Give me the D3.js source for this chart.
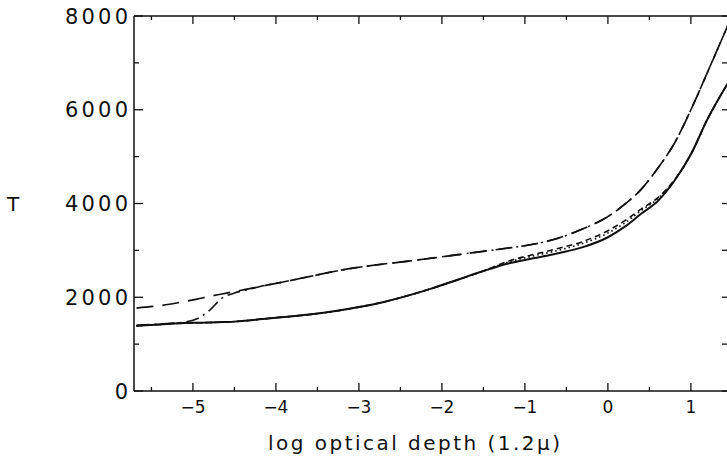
<!DOCTYPE html>
<html>
<head>
<meta charset="utf-8">
<script src="https://cdn.jsdelivr.net/npm/d3@7"></script>
<style>
  html, body { margin: 0; padding: 0; background: #fff; }
  svg { display: block; }
</style>
</head>
<body>
<script>
// log optical depth (1.2 micron)
const tau = [-5.68, -5.4, -5.1, -4.95, -4.8, -4.65, -4.5, -4.3, -4.2, -3.9, -3.6, -3.3, -3.0, -2.7, -2.4,
  -2.1, -1.8, -1.5, -1.2, -0.9, -0.6, -0.3, 0, 0.2, 0.4, 0.6, 0.8, 1.0, 1.2, 1.45]

// temperatures
const tSolid = [1390, 1420, 1450, 1455, 1460, 1470, 1480, 1510, 1530, 1580, 1630, 1700, 1790, 1900, 2040,
  2200, 2380, 2560, 2720, 2830, 2940, 3070, 3280, 3500, 3780, 4050, 4480, 5050, 5800, 6580]
const tDashed = [1390, 1420, 1450, 1455, 1460, 1470, 1480, 1510, 1530, 1580, 1630, 1700, 1790, 1900, 2040,
  2200, 2380, 2560, 2770, 2910, 3040, 3190, 3420, 3630, 3880, 4120, 4500, 5050, 5800, 6580]
const tDotted = [1390, 1420, 1450, 1455, 1460, 1470, 1480, 1510, 1530, 1580, 1630, 1700, 1790, 1900, 2040,
  2200, 2380, 2560, 2750, 2880, 3000, 3150, 3370, 3580, 3850, 4100, 4490, 5050, 5800, 6580]
const tLongDash = [1770, 1820, 1910, 1960, 2020, 2070, 2120, 2190, 2225, 2330, 2440, 2550, 2640, 2710, 2770,
  2840, 2910, 2980, 3050, 3130, 3260, 3460, 3720, 3980, 4300, 4750, 5280, 6000, 6800, 7820]
const tDashDot = [1400, 1430, 1470, 1540, 1720, 1980, 2090, 2180, 2225, 2330, 2440, 2550, 2640, 2710, 2770,
  2840, 2910, 2980, 3050, 3130, 3260, 3460, 3720, 3980, 4300, 4750, 5280, 6000, 6800, 7820]

const xMajor = [-5, -4, -3, -2, -1, 0, 1]
const xMinor = [-5.5, -4.5, -3.5, -2.5, -1.5, -0.5, 0.5]
const yMajor = [0, 2000, 4000, 6000, 8000]
const yMinor = [1000, 3000, 5000, 7000]
const xLabels = ["\u22125", "\u22124", "\u22123", "\u22122", "\u22121", "0", "1"]

const W = 727, H = 458
const plot = { left: 134, top: 16, right: 727, bottom: 391 }
const ink = "#111"

const x = d3.scaleLinear().domain([-5.71, 1.435]).range([plot.left, plot.right])
const y = d3.scaleLinear().domain([0, 8000]).range([plot.bottom, plot.top])

const svg = d3.select("body").append("svg")
    .attr("width", W)
    .attr("height", H)
    .attr("font-family", "'DejaVu Sans', sans-serif")
    .attr("fill", ink)

svg.append("defs").append("clipPath").attr("id", "clip")
    .append("rect")
    .attr("x", plot.left)
    .attr("y", plot.top)
    .attr("width", plot.right - plot.left)
    .attr("height", plot.bottom - plot.top)

// frame (right edge falls off the page)
const frame = svg.append("g").attr("stroke", ink).attr("stroke-width", 1.5)
frame.append("line").attr("x1", plot.left).attr("x2", plot.left).attr("y1", plot.top).attr("y2", plot.bottom)
frame.append("line").attr("x1", plot.left).attr("x2", plot.right).attr("y1", plot.bottom).attr("y2", plot.bottom)
frame.append("line").attr("x1", plot.left).attr("x2", plot.right).attr("y1", plot.top).attr("y2", plot.top)

// ticks, all pointing inward
const ticks = svg.append("g").attr("stroke", ink).attr("stroke-width", 1.3)
ticks.selectAll(".xb").data(xMajor.map(v => [v, 8]).concat(xMinor.map(v => [v, 4]))).enter()
    .append("line")
    .attr("x1", d => x(d[0])).attr("x2", d => x(d[0]))
    .attr("y1", plot.bottom).attr("y2", d => plot.bottom - d[1])
ticks.selectAll(".xt").data(xMajor.map(v => [v, 8]).concat(xMinor.map(v => [v, 4]))).enter()
    .append("line")
    .attr("x1", d => x(d[0])).attr("x2", d => x(d[0]))
    .attr("y1", plot.top).attr("y2", d => plot.top + d[1])
ticks.selectAll(".yl").data(yMajor.map(v => [v, 9]).concat(yMinor.map(v => [v, 5]))).enter()
    .append("line")
    .attr("x1", plot.left).attr("x2", d => plot.left + d[1])
    .attr("y1", d => y(d[0])).attr("y2", d => y(d[0]))
ticks.selectAll(".yr").data(yMajor.concat(yMinor)).enter()
    .append("line")
    .attr("x1", plot.right - 5).attr("x2", plot.right)
    .attr("y1", d => y(d)).attr("y2", d => y(d))

// tick labels
svg.append("g")
    .attr("font-size", 21)
    .attr("text-anchor", "end")
    .selectAll("text")
    .data(yMajor)
    .enter()
    .append("text")
    .attr("x", 128)
    .attr("y", d => y(d))
    .attr("dy", "0.36em")
    .attr("textLength", d => d === 0 ? null : 63)
    .attr("lengthAdjust", "spacing")
    .text(d => d)

svg.append("g")
    .attr("font-size", 17)
    .attr("text-anchor", "middle")
    .selectAll("text")
    .data(xMajor)
    .enter()
    .append("text")
    .attr("x", d => x(d))
    .attr("y", 413)
    .text((d, i) => xLabels[i])

// axis titles
svg.append("text")
    .attr("x", 414)
    .attr("y", 450)
    .attr("font-size", 20)
    .attr("text-anchor", "middle")
    .attr("textLength", 292)
    .attr("lengthAdjust", "spacing")
    .text("log optical depth (1.2\u03bc)")

svg.append("text")
    .attr("x", 13)
    .attr("y", y(4000))
    .attr("dy", "0.36em")
    .attr("font-size", 20)
    .attr("text-anchor", "middle")
    .text("T")

// curves
const series = [
  { t: tSolid, dash: null, w: 2 },
  { t: tDashed, dash: "6 4", w: 1.6 },
  { t: tDotted, dash: "1.6 3", w: 1.6 },
  { t: tLongDash, dash: "17 9", w: 1.7 },
  { t: tDashDot, dash: "13 5 2 5", w: 1.6 }
]

const line = d3.line()
    .x(d => x(d[0]))
    .y(d => y(d[1]))
    .curve(d3.curveMonotoneX)

svg.append("g")
    .attr("clip-path", "url(#clip)")
    .selectAll("path")
    .data(series)
    .enter()
    .append("path")
    .attr("d", s => line(tau.map((v, i) => [v, s.t[i]])))
    .attr("fill", "none")
    .attr("stroke", ink)
    .attr("stroke-width", s => s.w)
    .attr("stroke-dasharray", s => s.dash)
</script>
</body>
</html>
